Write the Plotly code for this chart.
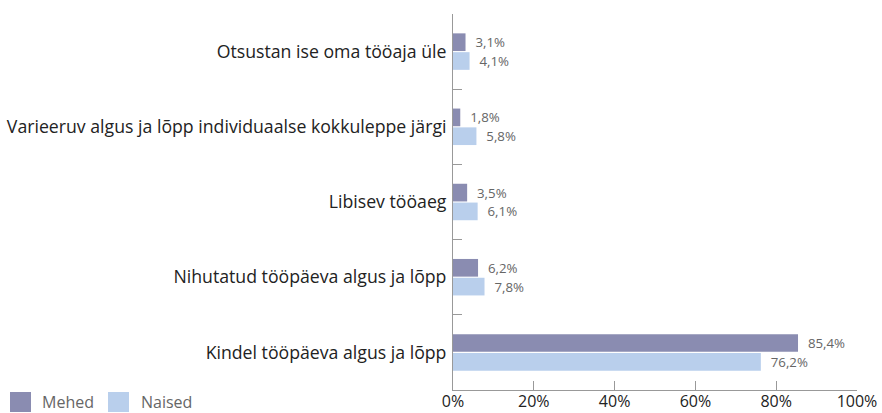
import plotly.graph_objects as go

categories = [
    "Otsustan ise oma tööaja üle",
    "Varieeruv algus ja lõpp individuaalse kokkuleppe järgi",
    "Libisev tööaeg",
    "Nihutatud tööpäeva algus ja lõpp",
    "Kindel tööpäeva algus ja lõpp",
]
series_names = ["Mehed", "Naised"]
mehed = [3.1, 1.8, 3.5, 6.2, 85.4]
naised = [4.1, 5.8, 6.1, 7.8, 76.2]
x_ticks = [0, 20, 40, 60, 80, 100]
x_tick_text = ["0%", "20%", "40%", "60%", "80%", "100%"]

colors = ["#8a8cb1", "#b9cfec"]
FONT = "Open Sans"

L, R, T, B = 453, 25, 14, 23
PW, PH = 882 - L - R, 413 - T - B

fig = go.Figure()
for name, vals, col in zip(series_names, [mehed, naised], colors):
    fig.add_trace(go.Bar(
        y=categories, x=vals, name=name, orientation="h",
        marker=dict(color=col, line=dict(width=0)),
        texttemplate="\u00a0\u00a0%{x:.1f}%", textposition="outside",
        textfont=dict(family=FONT, size=13.5, color="#666666"),
        cliponaxis=False, showlegend=False,
    ))

fig.update_layout(
    width=882, height=413,
    margin=dict(l=L, r=R, t=T, b=B, autoexpand=False),
    paper_bgcolor="white", plot_bgcolor="white",
    barmode="group", bargap=0.5, bargroupgap=0.06,
    separators=", ",
    font=dict(family=FONT, size=17, color="#222222"),
    xaxis=dict(range=[0, 100], tickvals=x_ticks, ticktext=x_tick_text,
               showgrid=False, zeroline=False, showline=True, linecolor="#999999",
               ticks="inside", ticklen=9, tickcolor="#999999", automargin=False,
               ticklabelstandoff=-3,
               tickfont=dict(family=FONT, size=16, color="#222222")),
    yaxis=dict(autorange="reversed", showgrid=False, zeroline=False,
               showline=True, linecolor="#999999", automargin=False,
               ticks="inside", ticklen=9, tickcolor="#999999", tickson="boundaries",
               tickfont=dict(family=FONT, size=17.7, color="#222222"), ticklabelstandoff=2),
)

# Legend drawn with shapes and text
leg = [(10, 40, series_names[0], colors[0]), (108, 139, series_names[1], colors[1])]
for x0, tx, name, col in leg:
    fig.add_shape(type="rect", xref="paper", yref="paper",
                  x0=(x0 - L) / PW, x1=(x0 + 21 - L) / PW,
                  y0=(390 - 412) / PH, y1=(390 - 392) / PH,
                  fillcolor=col, line=dict(width=0))
    fig.add_annotation(xref="paper", yref="paper", x=(tx - L) / PW, y=(390 - 402) / PH,
                       text=name, showarrow=False, xanchor="left", yanchor="middle",
                       font=dict(family=FONT, size=16, color="#666666"))

fig.write_html("out.html", post_script="document.body.style.margin='0';",
               config={"displayModeBar": False})
